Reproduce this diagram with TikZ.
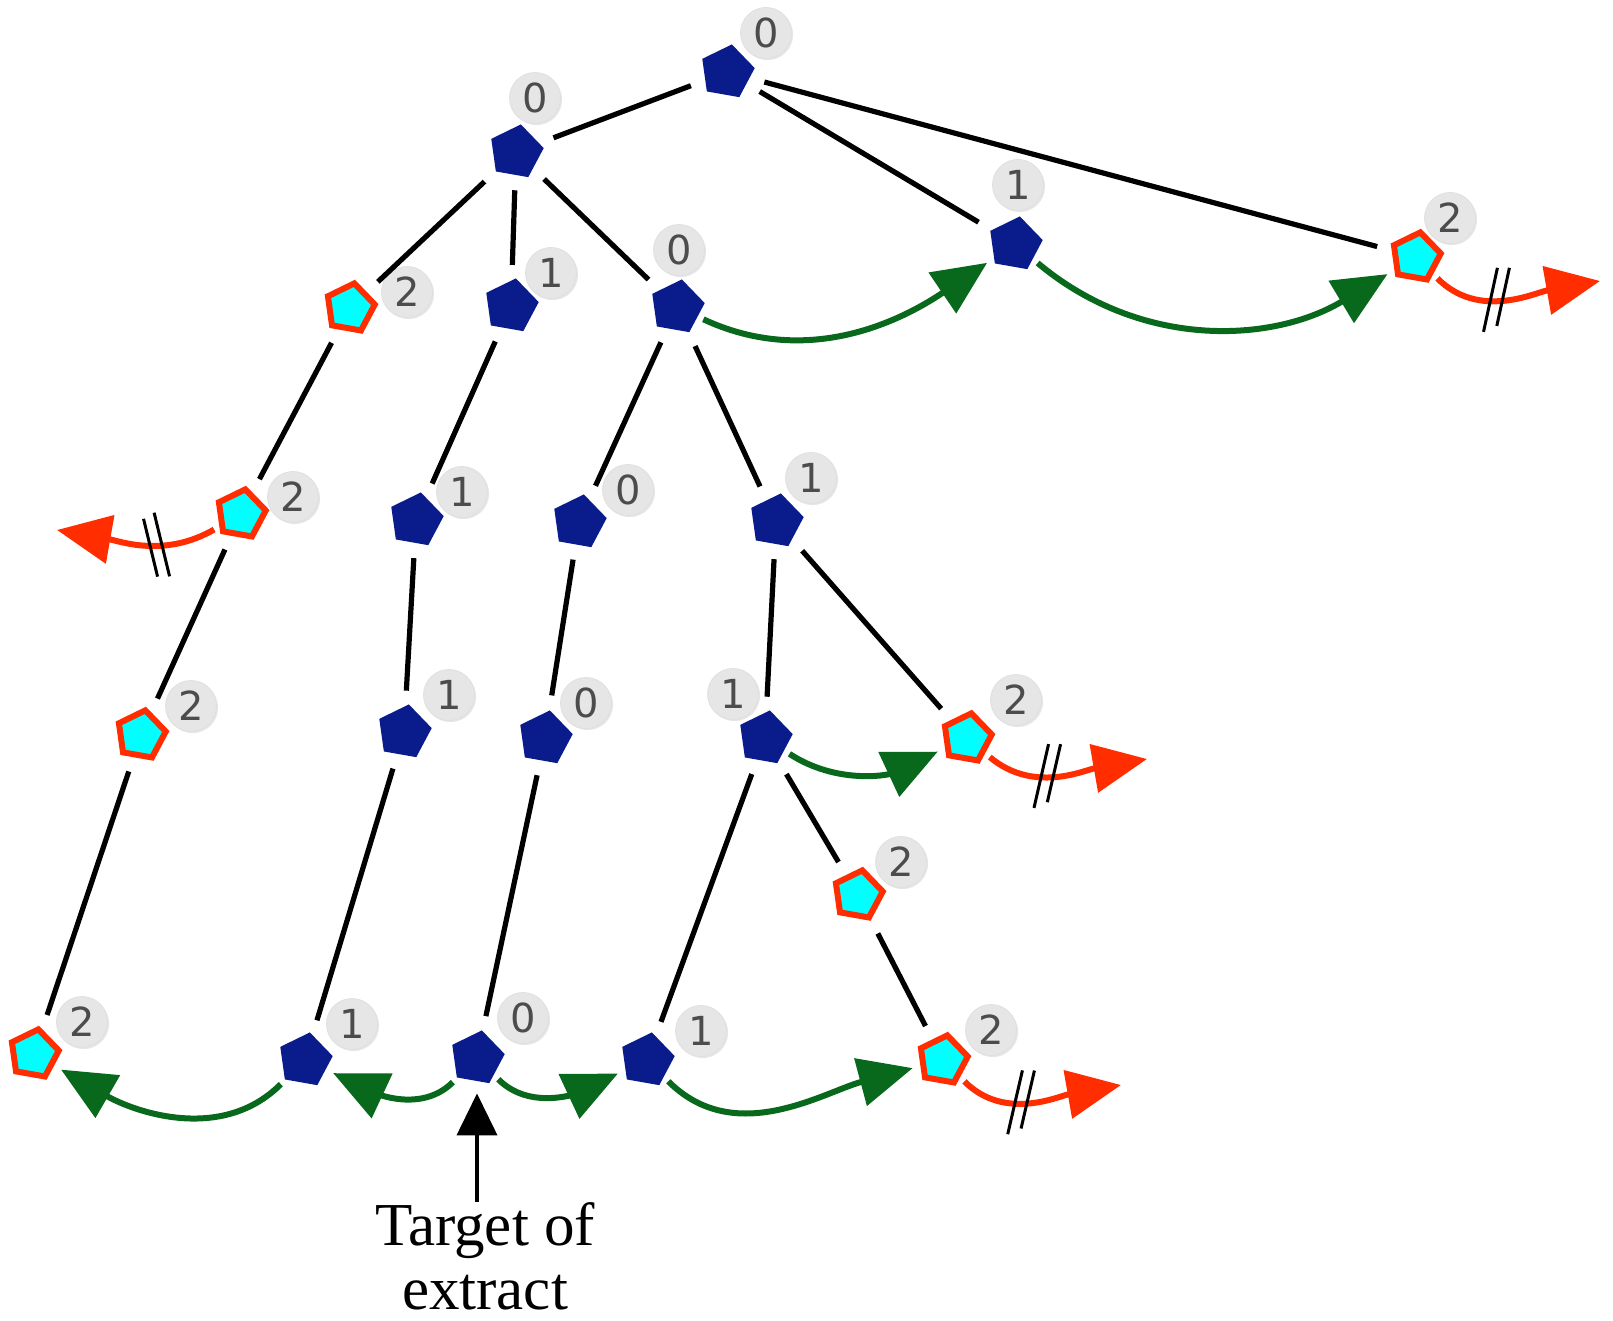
\documentclass[tikz,border=0pt]{standalone}
\usepackage{fontspec}
\setmainfont{Liberation Serif}
\newfontfamily\badgefont{DejaVu Sans}
\usetikzlibrary{shapes.geometric,arrows.meta,decorations.markings,shadows}

\definecolor{navy}{RGB}{10,28,140}
\definecolor{leafred}{RGB}{255,45,0}
\definecolor{leafcyan}{RGB}{0,255,255}
\definecolor{okgreen}{RGB}{8,104,28}
\definecolor{badgegray}{RGB}{230,230,230}

\begin{document}
\begin{tikzpicture}[x=0.5pt,y=-0.5pt,
  ent/.style={regular polygon, regular polygon sides=5, shape border rotate=-10,
              fill=navy, minimum size=28pt, inner sep=0pt},
  leaf/.style={regular polygon, regular polygon sides=5, shape border rotate=-10,
               fill=leafcyan, draw=leafred, line width=3pt, minimum size=25pt, inner sep=0pt},
  cnt/.style={circle, fill=badgegray, draw=black!12, minimum size=25.5pt, inner sep=0pt,
              font=\badgefont\fontsize{20}{20}\selectfont, text=black!70,
              drop shadow={opacity=0.2, shadow xshift=0.8pt, shadow yshift=-0.8pt}},
  link/.style={line width=2.6pt, shorten <=7.5pt, shorten >=7.5pt},
  ok/.style={okgreen, line width=3pt, -{Triangle[length=27pt,width=24pt]},
             shorten <=3pt, shorten >=4pt},
  cut/.style={leafred, line width=3pt, -{Triangle[length=27pt,width=24pt]},
              shorten <=3pt, postaction={decorate},
              decoration={markings, mark=at position 0.4 with
                {\draw[black, arrows=-, line width=1.5pt]
                   (-#1-3pt,-16pt) -- (#1-3pt,16pt)
                   (-#1+3pt,-16pt) -- (#1+3pt,16pt);}}},
  cut/.default=3.5pt
]
\useasboundingbox (0,0) rectangle (1613,1321);

% tree nodes
\node[ent]  (R) at (727,72)   {};
\node[ent]  (A) at (516,152)  {};
\node[ent]  (B) at (1015,244) {};
\node[leaf] (C) at (1416,257) {};
\node[leaf] (D) at (350,308)  {};
\node[ent]  (E) at (511,306)  {};
\node[ent]  (F) at (677,307)  {};
\node[leaf] (G) at (241,514)  {};
\node[ent]  (H) at (416,520)  {};
\node[ent]  (I) at (579,522)  {};
\node[ent]  (J) at (776,521)  {};
\node[leaf] (K) at (141,735)  {};
\node[ent]  (L) at (404,732)  {};
\node[ent]  (M) at (545,738)  {};
\node[ent]  (N) at (765,738)  {};
\node[leaf] (O) at (967,738)  {};
\node[leaf] (P) at (858,895)  {};
\node[leaf] (Q) at (34,1054)  {};
\node[ent]  (S) at (305,1060) {};
\node[ent]  (T) at (477,1058) {};
\node[ent]  (U) at (647,1060) {};
\node[leaf] (V) at (943,1060) {};

% counters
\node[cnt] (lR) at (766,33)   {0};
\node[cnt] (lA) at (535,98)   {0};
\node[cnt] (lB) at (1018,185) {1};
\node[cnt] (lC) at (1450,218) {2};
\node[cnt] (lD) at (407,292)  {2};
\node[cnt] (lE) at (551,273)  {1};
\node[cnt] (lF) at (679,250)  {0};
\node[cnt] (lG) at (293,497)  {2};
\node[cnt] (lH) at (462,492)  {1};
\node[cnt] (lI) at (628,490)  {0};
\node[cnt] (lJ) at (811,478)  {1};
\node[cnt] (lK) at (191,706)  {2};
\node[cnt] (lL) at (449,695)  {1};
\node[cnt] (lM) at (586,703)  {0};
\node[cnt] (lN) at (733,694)  {1};
\node[cnt] (lO) at (1016,700) {2};
\node[cnt] (lP) at (901,862)  {2};
\node[cnt] (lQ) at (82,1022)  {2};
\node[cnt] (lS) at (352,1024) {1};
\node[cnt] (lT) at (523,1018) {0};
\node[cnt] (lU) at (701,1031) {1};
\node[cnt] (lV) at (991,1030) {2};

% tree edges
\foreach \a/\b in {R/A, R/B, R/C, A/D, A/E, A/F, D/G, G/K, K/Q, E/H, H/L, L/S,
                   F/I, I/M, M/T, F/J, J/N, J/O, N/U, N/P, P/V}
  \draw[link] (\a) -- (\b);

% sibling steps
\draw[ok] (F) to[out=-25, in=214] (B);
\draw[ok] (B) to[out=-40, in=211] (C);
\draw[ok] (N) to[out=-33, in=205] (O);
\draw[ok] (S) to[out=225, in=-30] (Q);
\draw[ok] (T) to[out=225, in=-25] (S);
\draw[ok] (T) to[out=-45, in=205] (U);
\draw[ok] (U) to[out=-45, in=195] (V);

% cut-off steps
\coordinate (cC) at (1600,281);
\coordinate (cG) at (57,530);
\coordinate (cO) at (1147,759);
\coordinate (cV) at (1121,1085);
\draw[cut] (C) to[out=-45, in=190] (cC);
\draw[cut=-3.5pt] (G) to[out=210, in=-10] (cG);
\draw[cut] (O) to[out=-40, in=190] (cO);
\draw[cut] (V) to[out=-45, in=190] (cV);

% target
\node[font=\fontsize{30.5}{32}\selectfont, align=center, inner sep=0pt] (tgt) at (485,1256)
  {Target of\\extract};
\draw[line width=2pt, -{Triangle[length=21pt,width=20pt]}, shorten >=6pt]
  (T |- tgt.north) -- (T);
\end{tikzpicture}
\end{document}
